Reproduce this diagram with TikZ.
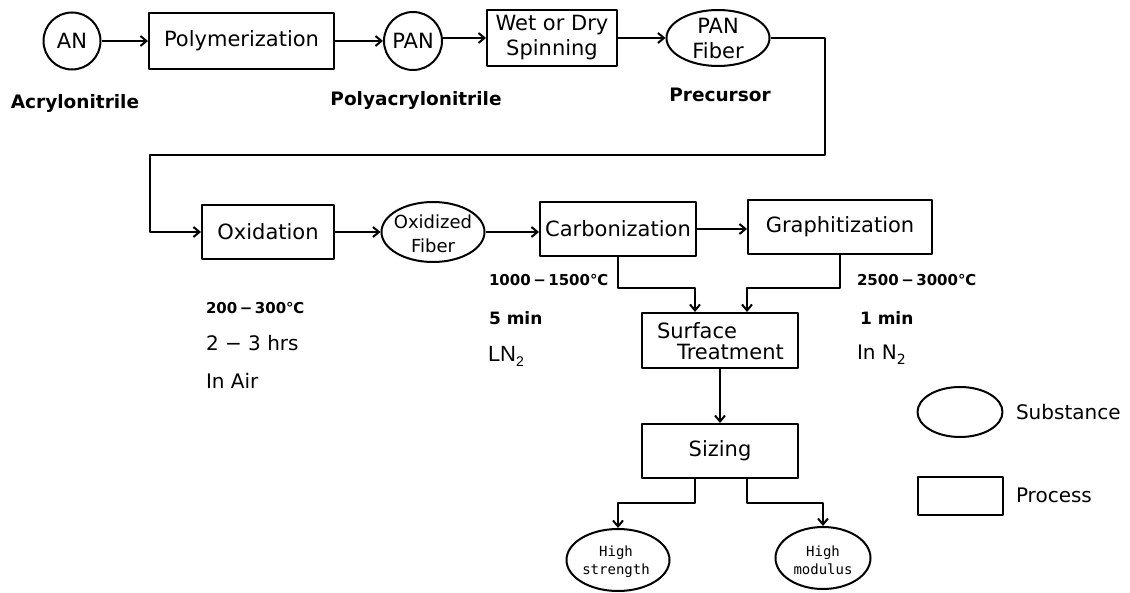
\documentclass[tikz,border=0pt]{standalone}
\usepackage{fontspec}
\setmainfont{DejaVu Sans}
\setmonofont{DejaVu Sans Mono}
\newfontfamily\libfont{Liberation Sans}
\usetikzlibrary{arrows.meta,shapes.geometric,calc}
\newcommand{\subtwo}{\raisebox{-5pt}{\fontsize{14}{14}\selectfont 2}}
\begin{document}
\begin{tikzpicture}[x=1pt,y=-1pt,
  line width=2pt, line join=round,
  proc/.style={draw, rectangle, inner sep=0pt, align=center, font=\fontsize{21}{25}\selectfont},
  subst/.style={draw, ellipse, inner sep=0pt},
  intext/.style={inner sep=0pt, align=center, font=\fontsize{21}{25}\selectfont},
  circ/.style={draw, circle, inner sep=0pt, font=\fontsize{21}{25}\selectfont},
  lbl/.style={inner sep=0pt, font=\bfseries\fontsize{18.5}{22}\selectfont},
  ann/.style={inner sep=0pt, anchor=west, font=\bfseries\fontsize{15}{18}\selectfont},
  annr/.style={inner sep=0pt, anchor=west, font=\fontsize{20}{24}\selectfont},
  monotext/.style={inner sep=0pt, align=center, font=\ttfamily\fontsize{14}{18}\selectfont},
  arr/.style={-{Straight Barb[length=6pt,width=10pt]}}
]
\useasboundingbox (0,0) rectangle (1130,593);

% row 1
\node[circ, minimum size=57pt] (AN) at (72,41) {AN};
\node[proc, minimum width=185pt, minimum height=56pt] (poly) at (241.5,41) {Polymerization};
\node[circ, minimum size=58pt] (PAN) at (413,41) {PAN};
\node[proc, minimum width=130pt, minimum height=56pt] (spin) at (552,38) {Wet or Dry\\Spinning};
\node[subst, minimum width=103pt, minimum height=56pt] (panf) at (718,38) {};
\node[intext] (panft) at (718,38) {PAN\\Fiber};

\node[lbl] (l1) at (75,103) {Acrylonitrile};
\node[lbl] (l2) at (416,100) {Polyacrylonitrile};
\node[lbl] (l3) at (720,95) {Precursor};

% row 2
\node[proc, minimum width=132pt, minimum height=54pt] (oxid) at (268,232) {Oxidation};
\node[subst, minimum width=103pt, minimum height=60pt] (oxf) at (433,232) {};
\node[intext, font=\fontsize{18}{24}\selectfont] (oxft) at (433,234) {Oxidized\\Fiber};
\node[proc, minimum width=156pt, minimum height=54pt] (carb) at (618,229) {Carbonization};
\node[proc, minimum width=184pt, minimum height=54pt] (graph) at (840,227) {Graphitization};

% lower
\node[proc, minimum width=156pt, minimum height=55pt] (surf) at (720,340.5) {};
\node[inner sep=0pt, anchor=west, font=\fontsize{21}{25}\selectfont] (surft1) at (656,331) {Surface};
\node[inner sep=0pt, anchor=west, font=\fontsize{21}{25}\selectfont] (surft2) at (676,352) {Treatment};
\node[proc, minimum width=156pt, minimum height=54pt] (siz) at (720,451) {Sizing};
\node[subst, minimum width=103pt, minimum height=62pt] (hs) at (618,560) {};
\node[monotext] (hst) at (616,562) {High\\strength};
\node[subst, minimum width=95pt, minimum height=62pt] (hm) at (823,558) {};
\node[monotext] (hmt) at (823,560) {High\\modulus};

% annotations
\node[ann] (a1) at (205,308) {200\,−\,300℃};
\node[annr] (a2) at (205,343) {2 − 3 hrs};
\node[annr] (a3) at (205,381) {In Air};
\node[ann] (b1) at (488,280) {1000\,−\,1500℃};
\node[ann, font=\bfseries\fontsize{17}{20}\selectfont] (b2) at (488,318) {5 min};
\node[inner sep=0pt, anchor=west, font=\libfont\fontsize{22}{24}\selectfont] (b3) at (487,356) {LN\subtwo};
\node[ann] (c1) at (856,280) {2500\,−\,3000℃};
\node[ann, font=\bfseries\fontsize{17}{20}\selectfont] (c2) at (859,318) {1 min};
\node[annr] (c3) at (856,355) {In N\subtwo};

% legend
\node[draw, ellipse, minimum width=85pt, minimum height=50pt] (lege) at (960,412) {};
\node[annr] (legt1) at (1015,412) {Substance};
\node[draw, rectangle, minimum width=85pt, minimum height=38pt] (legr) at (960.5,496) {};
\node[annr] (legt2) at (1015,495) {Process};

% connectors
\draw[arr] (AN) -- (poly);
\draw[arr] (poly) -- (PAN);
\draw[arr] (PAN.east |- spin) -- (spin);
\draw[arr] (spin) -- (panf);
\coordinate (k1) at (825,155);
\coordinate (k2) at (150,155);
\draw[arr] (panf.east) -| (k1) -- (k2) |- (oxid.west);
\draw[arr] (oxid) -- (oxf);
\draw[arr] (oxf.east) -- (oxf.east -| carb.west);
\draw[arr] (carb.east) -- (carb.east -| graph.west);
\coordinate (sl) at ($(surf.north)+(-25,0)$);
\coordinate (sr) at ($(surf.north)+(27,0)$);
\draw[arr] (carb.south) -- ++(0,31) -| (sl);
\draw[arr] (graph.south) -- ++(0,33) -| (sr);
\draw[arr] (surf) -- (siz);
\coordinate (zl) at ($(siz.south)+(-25,0)$);
\coordinate (zr) at ($(siz.south)+(27,0)$);
\draw[arr] (zl) -- ++(0,24) -| (hs.north);
\draw[arr] (zr) -- ++(0,24) -| (hm.north);
\end{tikzpicture}
\end{document}
